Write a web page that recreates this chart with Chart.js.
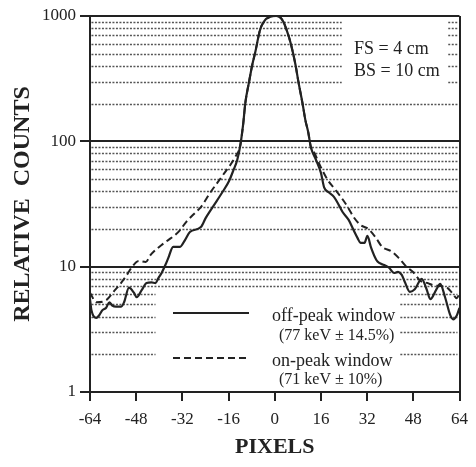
<!DOCTYPE html>
<html>
<head>
<meta charset="utf-8">
<title>Relative counts vs pixels</title>
<script src="https://cdn.jsdelivr.net/npm/chart.js@4.4.0/dist/chart.umd.min.js"></script>
<style>
  html, body { margin: 0; padding: 0; background: #fff; }
  #wrap { position: relative; width: 476px; height: 467px; }
</style>
</head>
<body>
<div id="wrap"><canvas id="profileChart"></canvas></div>
<script>
// x positions (pixels) and relative counts
const offPeakX = [-64, -63.5, -61.8, -60.8, -59.7, -58.4, -57.3, -56.3, -55, -53.2, -52.2, -50.5, -48.8, -47.8, -46.1, -44.4,
  -42.7, -41.3, -40.3, -39.2, -37.9, -36.9, -35.2, -32.8, -31.1, -29.4, -25.6, -23.9, -21.5, -18.1, -15.7, -14.3,
  -13, -11.9, -10.9, -10.2, -8.9, -7.8, -6.8, -5.1, -3.5, -2, -1, 0.5, 1.5, 3, 4.1, 5.5, 7.2, 8.2, 9.6, 10.6, 11.6,
  12.5, 14.3, 16, 17.1, 18.8, 20.5, 22.2, 23.5, 25.6, 27.3, 28.7, 29.7, 31.1, 32.1, 33.4, 35.2, 36.2, 37.9, 39.6,
  41.3, 42.7, 44, 45.1, 46.8, 48.5, 50.9, 52.6, 53.9, 56, 57.3, 59, 60.8, 61.8, 63.1, 64];
const offPeakCounts = [5.5, 4.5, 3.9, 4.1, 4.5, 4.7, 5.2, 4.9, 4.8, 4.8, 5.2, 6.8, 6.2, 5.7, 6.5, 7.4,
  7.5, 7.4, 8.1, 8.9, 10.3, 11.7, 14.4, 14.4, 16.3, 18.9, 20.7, 24.5, 29.9, 39.4, 49, 59,
  71, 94, 140, 202, 298, 407, 508, 774, 920, 975, 995, 1000, 990, 900, 774, 610, 407, 298, 202, 148, 118,
  90, 71, 56, 43, 39, 36, 31, 27.3, 23.6, 19.6, 16.9, 15.5, 15.5, 17.6, 14.1, 11.3, 10.7, 10.3, 9.8,
  8.9, 9.1, 8.6, 7.5, 6.3, 6.6, 8.0, 6.6, 5.5, 6.6, 7.3, 5.7, 4.1, 3.8, 4.1, 4.7];

const onPeakX = [-64, -61.8, -58.4, -55.6, -53.9, -51.5, -49.5, -47.1, -44.7, -43, -41.3, -39.2, -36.9, -34.5,
  -32.8, -30.7, -27.3, -25.6, -22.2, -17.4, -13.7, -11.9, -10.9, -10.2, -8.9, -7.8, -6.8, -5.1, -3.5, -2, -1,
  0.5, 1.5, 3, 4.1, 5.5, 7.2, 8.2, 9.6, 10.6, 11.6, 12.5, 13.7, 16, 18.4, 20.5, 22.9, 25.3, 27.3, 29.7, 32.4,
  34.8, 37.2, 40.3, 43, 45.4, 47.8, 50.5, 52.9, 54.9, 57.3, 59.7, 61.4, 63.1, 64];
const onPeakCounts = [6.2, 5.2, 5.4, 6.4, 7.1, 8.4, 9.9, 11.1, 10.9, 12.4, 13.6, 14.9, 16.3, 17.9,
  19.6, 22.7, 27.3, 29.9, 39.4, 56, 75, 94, 140, 202, 298, 407, 508, 774, 920, 975, 995,
  1000, 990, 900, 774, 610, 407, 298, 202, 148, 118, 90, 81, 62, 49, 42.5, 36, 29.9, 24.9, 21.5, 20,
  17.3, 14.4, 13.3, 11.7, 10.1, 9.1, 7.7, 7.4, 7.1, 7.0, 6.8, 6.2, 5.6, 6.2];

const yTickValues = [1, 10, 100, 1000];
const minorSteps = [2, 3, 4, 5, 6, 7, 8, 9];

const ink = '#222';
const serif = "'Liberation Serif', 'DejaVu Serif', serif";
Chart.defaults.font.family = serif;
Chart.defaults.color = ink;

function toPoints(xs, ys) {
  return xs.map((x, i) => ({ x: x, y: ys[i] }));
}

// dotted minor lines, with the breaks left around the text blocks
const paperGrid = {
  id: 'paperGrid',
  beforeDatasetsDraw(chart) {
    const { ctx, scales: { x, y } } = chart;
    ctx.save();
    ctx.strokeStyle = '#555';
    ctx.lineWidth = 1.5;
    ctx.setLineDash([2, 1.5]);
    yTickValues.slice(0, 3).forEach(decade => {
      minorSteps.forEach(m => {
        const v = decade * m;
        const py = Math.round(y.getPixelForValue(v)) + 0.5;
        let runs = [[-63.5, 63.3]];
        if (decade === 100 && m >= 3) runs = [[-63.5, 23.2], [60.1, 63.3]];
        if (decade === 1 && m <= 6) runs = [[-63.5, -41.3], [43.5, 63.3]];
        runs.forEach(r => {
          ctx.beginPath();
          ctx.moveTo(x.getPixelForValue(r[0]), py);
          ctx.lineTo(x.getPixelForValue(r[1]), py);
          ctx.stroke();
        });
      });
    });
    ctx.restore();
  },
  afterDatasetsDraw(chart) {
    const ctx = chart.ctx;
    ctx.save();
    ctx.fillStyle = ink;
    ctx.textBaseline = 'alphabetic';
    ctx.textAlign = 'left';
    ctx.font = '18px ' + serif;
    ctx.fillText('FS = 4 cm', 354, 54);
    ctx.fillText('BS = 10 cm', 354, 76);

    // legend
    ctx.strokeStyle = ink;
    ctx.lineWidth = 2;
    ctx.beginPath();
    ctx.moveTo(173, 313);
    ctx.lineTo(249, 313);
    ctx.stroke();
    ctx.setLineDash([7, 4]);
    ctx.beginPath();
    ctx.moveTo(173, 358);
    ctx.lineTo(249, 358);
    ctx.stroke();
    ctx.setLineDash([]);

    ctx.font = '18px ' + serif;
    ctx.fillText('off-peak window', 272, 321);
    ctx.fillText('on-peak window', 272, 366);
    ctx.font = '16px ' + serif;
    ctx.fillText('(77 keV \u00b1 14.5%)', 279, 340);
    ctx.fillText('(71 keV \u00b1 10%)', 279, 384);
    ctx.restore();
  }
};

new Chart(document.getElementById('profileChart'), {
  type: 'line',
  data: {
    datasets: [
      {
        label: 'off-peak window (77 keV ± 14.5%)',
        data: toPoints(offPeakX, offPeakCounts),
        borderColor: ink,
        borderWidth: 2.2,
        pointRadius: 0,
        cubicInterpolationMode: 'monotone'
      },
      {
        label: 'on-peak window (71 keV ± 10%)',
        data: toPoints(onPeakX, onPeakCounts),
        borderColor: ink,
        borderWidth: 2,
        borderDash: [7, 4],
        pointRadius: 0,
        cubicInterpolationMode: 'monotone'
      }
    ]
  },
  options: {
    responsive: true,
    maintainAspectRatio: false,
    animation: false,
    layout: { padding: { top: 16, right: 11, left: 0, bottom: 0 } },
    plugins: {
      legend: { display: false },
      tooltip: { enabled: false }
    },
    scales: {
      x: {
        type: 'linear',
        min: -64,
        max: 64,
        afterFit: (scale) => { scale.height = 75; },
        ticks: {
          stepSize: 16,
          padding: 8,
          font: { size: 17 },
          color: ink
        },
        grid: {
          drawOnChartArea: true,
          color: (c) => (c.tick && c.tick.value === 64 ? ink : 'rgba(0,0,0,0)'),
          tickColor: ink,
          lineWidth: 2,
          tickWidth: 2,
          tickLength: 9
        },
        border: { color: ink, width: 2 },
        title: {
          display: true,
          text: 'PIXELS',
          font: { size: 22, weight: 'bold' },
          color: ink,
          padding: { top: 0, bottom: 6 }
        }
      },
      y: {
        type: 'logarithmic',
        min: 1,
        max: 1000,
        afterFit: (scale) => { scale.width = 90; },
        afterBuildTicks: (scale) => {
          scale.ticks = yTickValues.map(v => ({ value: v }));
        },
        ticks: {
          padding: 4,
          font: { size: 17 },
          color: ink,
          callback: (value) => String(value)
        },
        grid: {
          color: ink,
          lineWidth: 2,
          tickWidth: 2,
          tickLength: 10
        },
        border: { color: ink, width: 2 },
        title: {
          display: true,
          text: 'RELATIVE  COUNTS',
          font: { size: 24, weight: 'bold' },
          color: ink,
          padding: { top: 8, bottom: 0 }
        }
      }
    }
  },
  plugins: [paperGrid]
});
</script>
</body>
</html>
